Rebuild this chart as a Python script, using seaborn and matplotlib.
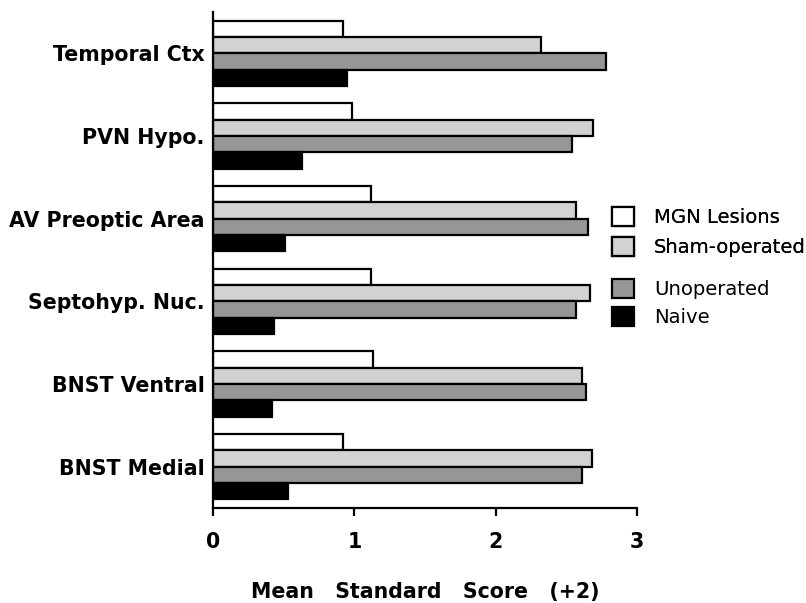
import matplotlib
matplotlib.use("Agg")
import matplotlib.pyplot as plt
import seaborn as sns
import pandas as pd
from matplotlib.patches import Patch

# Brain regions (top to bottom) and treatment groups
regions = ["Temporal Ctx", "PVN Hypo.", "AV Preoptic Area",
           "Septohyp. Nuc.", "BNST Ventral", "BNST Medial"]
groups = ["MGN Lesions", "Sham-operated", "Unoperated", "Naive"]

# Mean standard score (+2) per region for each group
mgn_lesions = [0.92, 0.98, 1.12, 1.12, 1.13, 0.92]
sham_operated = [2.32, 2.69, 2.57, 2.67, 2.61, 2.68]
unoperated = [2.78, 2.54, 2.65, 2.57, 2.64, 2.61]
naive = [0.95, 0.63, 0.51, 0.43, 0.42, 0.53]

x_ticks = [0, 1, 2, 3]
x_label = "Mean   Standard   Score   (+2)"

series = [mgn_lesions, sham_operated, unoperated, naive]
df = pd.DataFrame(
    [(r, g, v) for g, vals in zip(groups, series) for r, v in zip(regions, vals)],
    columns=["region", "group", "score"],
)

sns.set_style("white")
plt.rcParams["font.family"] = ["DejaVu Sans"]
plt.rcParams["text.color"] = "black"
plt.rcParams["axes.labelcolor"] = "black"
plt.rcParams["xtick.color"] = "black"
plt.rcParams["ytick.color"] = "black"

fig = plt.figure(figsize=(8.06, 6.03), dpi=100)
ax = fig.add_axes([213 / 806, 1 - 508 / 603, 424 / 806, 496 / 603])

palette = {"MGN Lesions": "#ffffff", "Sham-operated": "#d2d2d2",
           "Unoperated": "#969696", "Naive": "#000000"}

sns.barplot(data=df, y="region", x="score", hue="group", order=regions,
            hue_order=groups, palette=palette, orient="h", width=0.79,
            edgecolor="black", linewidth=1.6, saturation=1, ax=ax,
            legend=False)

ax.set_xlim(0, 3)
ax.set_ylim(5.5, -0.5)
ax.set_xticks(x_ticks)
ax.set_xticklabels([str(t) for t in x_ticks], fontsize=14.8,
                   fontweight="bold", color="black")
ax.set_yticklabels(regions, fontsize=14.8, fontweight="bold", color="black")
ax.tick_params(axis="x", direction="out", length=6, width=1.6, pad=11,
               bottom=True, color="black")
ax.tick_params(axis="y", length=0, pad=6)
ax.set_ylabel("")
ax.set_xlabel(x_label, fontsize=14.8, fontweight="bold", labelpad=22,
              color="black")

for side in ["top", "right"]:
    ax.spines[side].set_visible(False)
for side in ["left", "bottom"]:
    ax.spines[side].set_color("black")
    ax.spines[side].set_linewidth(1.6)


# Legend in two blocks, with a slightly wider gap between them
def make_legend(names, top_px, spacing):
    handles = [Patch(facecolor=palette[n], edgecolor="black", linewidth=1.6)
               for n in names]
    return fig.legend(handles, names, loc="upper left",
                      bbox_to_anchor=(612 / 806, 1 - top_px / 603),
                      frameon=False, borderpad=0, borderaxespad=0,
                      fontsize=14.1, handlelength=1.1, handleheight=1.1,
                      handletextpad=1.05, labelspacing=spacing,
                      labelcolor="black")


leg1 = make_legend(groups[:2], 207, 0.5)
make_legend(groups[2:], 279, 0.4)
fig.add_artist(leg1)

fig.savefig("out.png", dpi=100)
